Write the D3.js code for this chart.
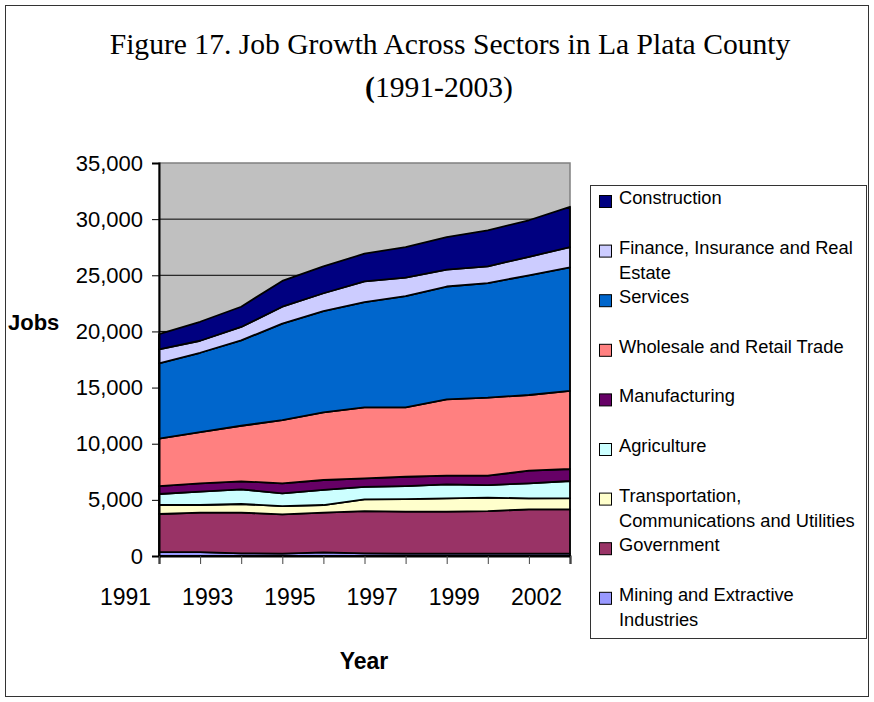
<!DOCTYPE html>
<html>
<head>
<meta charset="utf-8">
<script src="https://cdn.jsdelivr.net/npm/d3@7"></script>
<style>
  body { margin: 0; background: #fff; }
  svg { display: block; }
</style>
</head>
<body>
<svg id="chart" width="874" height="702"></svg>
<script>
// Categories along the x axis and the labels shown under every other tick
const years = ["1991", "1992", "1993", "1994", "1995", "1996", "1997", "1998", "1999", "2000", "2002"];
const yearLabels = ["1991", "", "1993", "", "1995", "", "1997", "", "1999", "", "2002"];

// Jobs by sector (stacked bottom to top in this order)
const mining        = [350, 340, 230, 220, 320, 230, 220, 220, 220, 220, 220];
const government    = [3390, 3520, 3630, 3490, 3540, 3760, 3730, 3730, 3780, 3930, 3930];
const transport     = [800, 680, 770, 740, 680, 1060, 1120, 1180, 1200, 980, 1000];
const agriculture   = [980, 1190, 1310, 1130, 1340, 1100, 1160, 1250, 1120, 1340, 1530];
const manufacturing = [710, 740, 710, 890, 890, 770, 830, 770, 830, 1130, 1070];
const wholesale     = [4220, 4570, 4950, 5630, 6030, 6320, 6180, 6800, 6950, 6740, 6950];
const services      = [6710, 7060, 7600, 8600, 9000, 9360, 9910, 10050, 10200, 10660, 11000];
const finance       = [1240, 1070, 1200, 1500, 1600, 1850, 1650, 1500, 1500, 1650, 1800];
const construction  = [1350, 1690, 1800, 2300, 2400, 2470, 2700, 2900, 3200, 3250, 3600];

const yTicks = [0, 5000, 10000, 15000, 20000, 25000, 30000, 35000];

const series = [
  { key: "mining",        name: ["Mining and Extractive", "Industries"],            color: "#9999FF", values: mining },
  { key: "government",    name: ["Government"],                                     color: "#993366", values: government },
  { key: "transport",     name: ["Transportation,", "Communications and Utilities"], color: "#FFFFCC", values: transport },
  { key: "agriculture",   name: ["Agriculture"],                                    color: "#CCFFFF", values: agriculture },
  { key: "manufacturing", name: ["Manufacturing"],                                  color: "#660066", values: manufacturing },
  { key: "wholesale",     name: ["Wholesale and Retail Trade"],                     color: "#FF8080", values: wholesale },
  { key: "services",      name: ["Services"],                                       color: "#0066CC", values: services },
  { key: "finance",       name: ["Finance, Insurance and Real", "Estate"],          color: "#CCCCFF", values: finance },
  { key: "construction",  name: ["Construction"],                                   color: "#000080", values: construction }
];

const rows = years.map((yr, i) => {
  const r = { year: yr };
  series.forEach(s => { r[s.key] = s.values[i]; });
  return r;
});

const svg = d3.select("#chart");
const W = 874, H = 702;
const plot = { left: 159, right: 570, top: 163, bottom: 556 };

const sans = "Arial, 'Liberation Sans', sans-serif";
const serif = "'Times New Roman', 'Liberation Serif', serif";

// Outer frame
svg.append("rect")
  .attr("x", 5.5).attr("y", 5.5)
  .attr("width", W - 11).attr("height", H - 11)
  .attr("fill", "#fff").attr("stroke", "#333").attr("stroke-width", 1);

// Title
svg.append("text")
  .attr("x", 450).attr("y", 54)
  .attr("text-anchor", "middle")
  .attr("font-family", serif).attr("font-size", 29.6).attr("fill", "#000")
  .text("Figure 17. Job Growth Across Sectors in La Plata County");
const sub = svg.append("text")
  .attr("x", 439).attr("y", 97)
  .attr("text-anchor", "middle")
  .attr("font-family", serif).attr("font-size", 29.6).attr("fill", "#000");
sub.append("tspan").attr("font-weight", "bold").text("(");
sub.append("tspan").text("1991-2003)");

// Scales
const x = d3.scalePoint().domain(years).range([plot.left, plot.right]);
const y = d3.scaleLinear().domain([0, 35000]).range([plot.bottom, plot.top]);

// Plot area background
svg.append("rect")
  .attr("x", plot.left).attr("y", plot.top)
  .attr("width", plot.right - plot.left).attr("height", plot.bottom - plot.top)
  .attr("fill", "#C0C0C0").attr("stroke", "#808080").attr("stroke-width", 1.5);

// Gridlines
svg.append("g").selectAll("line")
  .data(yTicks.filter(v => v > 0 && v < 35000))
  .join("line")
  .attr("x1", plot.left).attr("x2", plot.right)
  .attr("y1", d => y(d)).attr("y2", d => y(d))
  .attr("stroke", "#000").attr("stroke-width", 1);

// Stacked areas
const stack = d3.stack().keys(series.map(s => s.key));
const layers = stack(rows);
const area = d3.area()
  .x(d => x(d.data.year))
  .y0(d => y(d[0]))
  .y1(d => y(d[1]));

svg.append("g").selectAll("path")
  .data(layers)
  .join("path")
  .attr("d", area)
  .attr("fill", (d, i) => series[i].color)
  .attr("stroke", "#000")
  .attr("stroke-width", 1.8)
  .attr("stroke-linejoin", "round");

// Y axis
const yAxis = svg.append("g")
  .attr("transform", `translate(${plot.left},0)`)
  .call(d3.axisLeft(y).tickValues(yTicks).tickFormat(d3.format(",")).tickSize(7).tickPadding(9));
yAxis.select(".domain").attr("stroke", "#000").attr("stroke-width", 2);
yAxis.selectAll(".tick line").attr("stroke", "#000");
yAxis.selectAll("text")
  .attr("font-family", sans).attr("font-size", 22).attr("fill", "#000");

// X axis
const xAxis = svg.append("g")
  .attr("transform", `translate(0,${plot.bottom})`)
  .call(d3.axisBottom(x).tickSize(8).tickFormat((d, i) => yearLabels[i]));
xAxis.select(".domain").attr("stroke", "#000").attr("stroke-width", 2);
xAxis.selectAll(".tick line").attr("stroke", "#444");
xAxis.selectAll("text")
  .attr("font-family", sans).attr("font-size", 23).attr("fill", "#000")
  .attr("y", 49).attr("dy", 0).attr("dx", -34);

// Axis titles
svg.append("text")
  .attr("x", 8).attr("y", 330)
  .attr("font-family", sans).attr("font-size", 22).attr("font-weight", "bold")
  .text("Jobs");
svg.append("text")
  .attr("x", 364).attr("y", 669)
  .attr("text-anchor", "middle")
  .attr("font-family", sans).attr("font-size", 23).attr("font-weight", "bold")
  .text("Year");

// Legend
const legend = svg.append("g");
legend.append("rect")
  .attr("x", 590.5).attr("y", 185.5)
  .attr("width", 276).attr("height", 453)
  .attr("fill", "#fff").attr("stroke", "#333").attr("stroke-width", 1);

const legendItems = series.slice().reverse();
legendItems.forEach((s, i) => {
  const base = 204 + i * 49.6;
  const g = legend.append("g");
  g.append("rect")
    .attr("x", 599.5).attr("y", base - 8.5)
    .attr("width", 12).attr("height", 12)
    .attr("fill", s.color).attr("stroke", "#000").attr("stroke-width", 1);
  s.name.forEach((line, j) => {
    g.append("text")
      .attr("x", 619).attr("y", base + j * 25)
      .attr("font-family", sans).attr("font-size", 18.3).attr("fill", "#000")
      .text(line);
  });
});
</script>
</body>
</html>
